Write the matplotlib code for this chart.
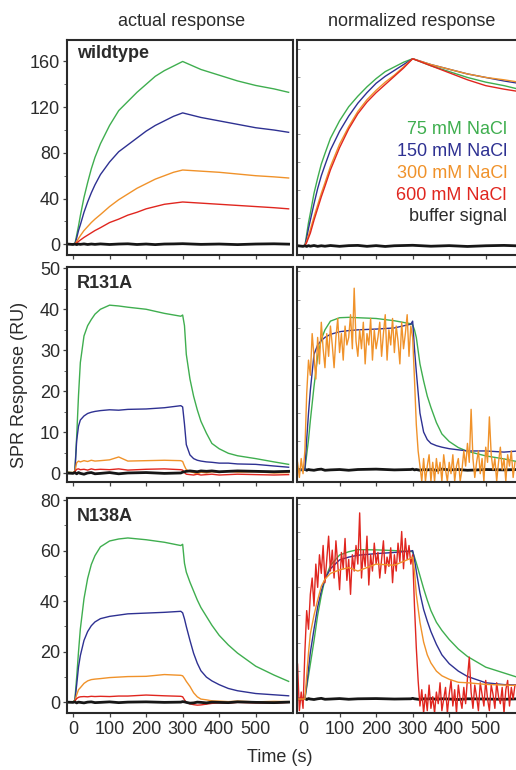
import matplotlib
matplotlib.use('agg')
import matplotlib.pyplot as plt
from matplotlib.ticker import MultipleLocator, FixedLocator

plt.rcParams['font.family'] = ['Liberation Sans', 'DejaVu Sans']

# colours of the five traces
GREEN = '#3fae4f'
BLUE = '#2e3192'
ORANGE = '#f0922a'
RED = '#e0261f'
BLACK = '#161616'
TXT = '#2b2b2b'

# ---------------- wildtype ----------------
tw = [-20, 0, 5, 10, 15, 20, 30, 40, 50, 60, 75, 100, 125, 150, 175, 200, 225,
      250, 275, 300, 350, 400, 450, 500, 550, 590]
wt_green = [0, 0, 0, 8, 16, 25, 41, 54, 66, 76, 88, 104, 117, 125, 133, 140, 147,
            152, 156, 160, 153, 148, 143, 139, 136, 133]
wt_blue = [0, 0, 0, 5.5, 12, 17, 28, 37, 45, 52, 61, 72, 81, 87, 93, 99, 104,
           108, 112, 115, 111, 108, 105, 102, 100, 98]
wt_orange = [0, 0, 0, 2.5, 5, 7.5, 12, 15.5, 19, 22, 26, 33, 39, 44, 49, 53, 57,
             60, 63, 65, 64, 63, 61.5, 60, 59, 58]
wt_red = [0, 0, 0, 1.2, 2.5, 3.7, 6, 8, 10, 12, 14.5, 19, 22, 25.5, 28, 31, 33,
          35, 36, 37, 36, 35, 34, 33, 32, 31]
wt_black = [0.3, -0.2, 0.2, -0.3, 0.2, -0.1, 0.3, -0.2, 0.2, -0.1, 0.3, -0.2,
            0.2, 0.4, -0.2, 0.2, -0.3, 0.2, 0.3, 0.5, -0.1, 0.2, -0.3, 0.2, 0.4, 0.1]

wtn_green = [0, 0, 0, 10, 20, 28, 45, 58, 70, 79, 92, 107, 119, 128, 136, 143, 149,
             153, 157, 160, 154, 149, 144, 140, 137, 134]
wtn_blue = [0, 0, 0, 7, 15, 22, 36, 49, 60, 69, 82, 98, 111, 122, 131, 139, 145,
            150, 155, 160, 155, 151, 147, 144, 141, 139]
wtn_orange = [0, 0, 0, 4, 9, 14, 25, 35, 45, 54, 68, 87, 102, 115, 125, 133, 140,
              146, 153, 160, 155, 151, 147, 144, 142, 140]
wtn_red = [0, 0, 0, 3, 7, 11, 22, 32, 42, 51, 65, 84, 100, 113, 123, 131, 138,
           145, 152, 160, 154, 148, 142, 137, 134, 132]
wtn_black = [0.4, -0.3, 0.2, -0.4, 0.3, -0.2, 0.4, -0.3, 0.2, -0.2, 0.4, -0.3,
             0.3, 0.5, -0.3, 0.3, -0.4, 0.2, 0.4, 0.6, -0.2, 0.3, -0.4, 0.2, 0.5, 0.1]

# ---------------- mutants (shared time grid) ----------------
tm = [-20, 0, 5, 10, 15, 20, 30, 40, 50, 60, 75, 100, 125, 150, 200, 250, 295,
      300, 305, 310, 320, 330, 340, 350, 365, 380, 400, 425, 450, 500, 550, 590]

r131_green = [0.3, 0.2, 0.5, 9, 19, 27, 33.5, 36, 37.5, 38.8, 40, 41, 40.8, 40.5,
              40, 39, 38.3, 38.6, 36, 29, 23, 18.8, 15.5, 12.7, 9.8, 7.3, 6, 4.9,
              4.3, 3.6, 2.8, 2.2]
r131_blue = [0.2, 0.1, 0.3, 8, 11.5, 13, 14, 14.6, 14.9, 15.1, 15.3, 15.5, 15.4,
             15.6, 15.7, 16, 16.5, 16.2, 12, 7, 4.5, 3.6, 3.2, 3, 2.8, 2.7, 2.5,
             2.5, 2.3, 2.2, 1.8, 1.5]
r131_orange = [0.3, 0.2, 0.5, 2.6, 3.0, 2.8, 3.1, 2.9, 3.2, 3.0, 3.1, 3.3, 4.0,
               3.0, 3.1, 3.2, 3.1, 2.9, 1.8, 0.9, 0.4, 0.2, -0.2, 0.3, 0.1, 0.4,
               0.2, 0.5, 0.3, 0.4, 0.1, 0.2]
r131_red = [0.2, 0.1, 0.4, 1.0, 1.1, 0.9, 1.0, 0.8, 1.1, 0.9, 1.0, 0.9, 1.1, 0.8,
            1.0, 1.1, 0.9, 0.8, 0.2, -0.2, -0.3, -0.4, -0.2, -0.4, -0.3, -0.2,
            -0.4, -0.3, -0.2, -0.3, -0.4, -0.3]
r131_black = [0.1, 0.0, 0.2, -0.1, 0.2, 0.0, -0.2, 0.1, 0.2, -0.1, 0.0, 0.2, -0.1,
              0.1, 0.2, 0.0, 0.1, 0.3, 0.4, 0.5, 0.6, 0.5, 0.4, 0.6, 0.5, 0.6,
              0.4, 0.5, 0.6, 0.5, 0.4, 0.5]

r131n_green = [0, 0, 0, 4, 8, 13, 22, 30, 34.5, 37, 39.3, 40.2, 40.3, 40.2, 40,
               39.4, 38.6, 38.3, 37, 35, 28, 23.5, 19.5, 16.5, 12.5, 9.5, 7.5,
               5.9, 4.9, 3.7, 2.9, 2.1]
r131n_blue = [0, 0, 0, 8, 15, 21, 30.5, 33, 34.2, 35, 35.8, 36.5, 36.8, 37, 37.2,
              37.5, 38.5, 39.3, 32, 26, 15, 10, 8, 7, 6.4, 6, 5.6, 5.3, 5, 5,
              4.7, 5.0]
r131n_black = [0.1, 0.0, 0.2, -0.1, 0.1, 0.0, -0.1, 0.1, 0.2, -0.1, 0.0, 0.1,
               -0.1, 0.1, 0.2, 0.0, 0.1, 0.2, 0.0, 0.1, -0.1, 0.1, 0.0, 0.1,
               -0.1, 0.2, 0.0, 0.1, -0.1, 0.1, 0.0, 0.1]

n138_green = [0.3, 0.2, 1, 10, 20, 29, 41, 49, 54.5, 58, 61.5, 63.8, 64.6, 65,
              64.3, 63.3, 62, 62.5, 55, 51.5, 47.5, 44, 40.5, 37.5, 34, 30.5,
              26.5, 22.7, 19.5, 14.3, 10.8, 8.3]
n138_blue = [0.2, 0.1, 0.5, 7, 14, 18.5, 24.5, 28, 30.3, 31.8, 33.1, 34, 34.5,
             35, 35.3, 35.6, 36, 35.4, 33, 30, 24.5, 19.4, 15.5, 12.5, 10, 8.5,
             7, 5.5, 4.6, 3.5, 3, 2.6]
n138_orange = [0.3, 0.2, 0.6, 3, 5, 5.8, 7.5, 8.5, 9, 9.2, 9.4, 9.8, 10, 10.2,
               10.3, 11, 10.7, 10.5, 9.5, 8.3, 6.3, 3.8, 2.2, 1.3, 1, 0.6, 0.5,
               0.3, 0.5, 0.2, 0.4, 0.3]
n138_red = [0.2, 0.1, 0.5, 1.5, 2, 2.2, 2.3, 2.2, 2.4, 2.3, 2.4, 2.3, 2.5, 2.5,
            2.9, 2.6, 2.4, 2.2, 1.0, 0, -0.6, -0.9, -1.1, -1.0, -0.7, -0.4,
            -0.2, -0.3, 0, -0.2, -0.3, 0]
n138_black = [0.1, 0.0, 0.2, -0.2, 0.1, 0.0, -0.2, 0.1, 0.2, -0.1, 0.0, 0.2,
              -0.1, 0.1, 0.2, 0.0, 0.1, 0.3, 0.2, 0.0, -0.3, -0.2, 0.1, 0.0,
              -0.2, 0.1, 0.0, -0.1, 0.2, 0.0, -0.1, 0.1]

n138n_green = [0, 0, 0, 5, 10, 15, 25, 36, 44.5, 51.5, 57.4, 61.9, 63.3, 64.2,
               64.1, 63.8, 63.4, 63.3, 61, 58.5, 53, 47.5, 42.5, 38, 33, 29.5,
               25.6, 21.5, 18.3, 13.7, 11.2, 9.2]
n138n_blue = [0, 0, 0, 6, 13, 20, 30, 39.5, 46.5, 51.5, 56, 59.8, 61, 61.8, 62.5,
              63, 63.6, 63.8, 60, 55, 45.5, 38.5, 33.5, 29, 23.5, 19, 15.2, 12,
              9.7, 7, 6.2, 6]
n138n_orange = [0, 0, 0, 10, 20, 28, 36, 42.5, 48.5, 51.5, 54, 55.5, 56.5, 55,
                58, 57.5, 60.5, 61, 55, 45, 33, 24.5, 19, 15.5, 12, 10, 8.5, 7.2,
                7, 6.3, 6, 5.8]
n138n_black = [0.1, 0.0, 0.3, -0.2, 0.2, 0.0, -0.2, 0.1, 0.3, -0.1, 0.0, 0.2,
               -0.1, 0.1, 0.2, 0.0, 0.1, 0.3, 0.1, 0.0, -0.2, 0.1, 0.0, 0.2,
               -0.1, 0.1, 0.0, -0.2, 0.1, 0.0, -0.1, 0.1]

# noisy normalized traces, one value every 5 s from -15 s to 580 s
t5 = list(range(-15, 585, 5))
r131n_orange = [2, -2, 3, -1, 5, 20, 29, 25, 36, 30,
                24, 35, 28, 39, 32, 27, 36, 30, 38, 33,
                27, 35, 40, 31, 36, 29, 38, 33, 35, 41,
                32, 48, 34, 30, 37, 32, 39, 28, 36, 33,
                40, 29, 37, 32, 35, 39, 30, 36, 41, 29,
                37, 33, 40, 31, 38, 34, 28, 39, 32, 36,
                41, 30, 38, 35, 24, 12, 5, 1, -3, 3,
                -3, 1, 4, -3, 2, -3, 3, -1, 2, -3,
                4, 0, -3, 2, -1, 4, -3, 1, 3, -3,
                0, 5, 1, 7, 2, 16, 3, -2, 2, 5,
                -1, 3, -3, 6, 2, 14, 4, 0, 3, -3,
                2, 6, 0, 3, -3, 4, 1, 5, -2, 2]
n138n_red = [15, -5, 3, -4, 20, 38, 30, 45, 52, 40,
             58, 48, 62, 54, 66, 50, 60, 70, 55, 64,
             52, 68, 58, 47, 63, 56, 69, 51, 60, 45,
             62, 55, 66, 58, 80, 52, 64, 57, 70, 49,
             62, 55, 67, 58, 63, 52, 60, 68, 54, 61,
             57, 65, 50, 62, 55, 67, 59, 72, 56, 69,
             60, 66, 58, 62, 40, 22, 8, -3, 4, -6,
             2, -5, 6, -4, 1, -6, 3, -2, 7, -5,
             0, 5, -6, 2, 8, -3, 4, -6, 6, 0,
             -4, 5, -2, 9, 18, 3, -4, 6, 1, -5,
             7, 2, -3, 8, 0, -5, 6, 2, -4, 7,
             1, -2, 5, -6, 4, 8, -3, 5, 0, 6]

xticks = [0, 100, 200, 300, 400, 500]
legend_labels = ['75 mM NaCl', '150 mM NaCl', '300 mM NaCl', '600 mM NaCl', 'buffer signal']
legend_colors = [GREEN, BLUE, ORANGE, RED, TXT]
panel_names = ['wildtype', 'R131A', 'N138A']

W, H = 516, 770
fig = plt.figure(figsize=(W / 100, H / 100), dpi=100)
fig.patch.set_facecolor('white')


def px_axes(left, top, right, bottom):
    return fig.add_axes([left / W, 1 - bottom / H, (right - left) / W, (bottom - top) / H])


rows = [(40, 255), (267, 482), (498, 713)]
ylims_left = [(-9.4, 178.8), (-2.1, 50.3), (-4.2, 80.8)]
ylims_right = [(-7.7, 176), (-3.2, 53.6), (-6, 86.4)]
major = [40, 10, 20]
minor = [20, 5, 10]
rticks = [24, 7.5, 12]

axes = []
for i, (top, bot) in enumerate(rows):
    axl = px_axes(67, top, 293, bot)
    axr = px_axes(297, top, 523, bot)   # runs off the right edge like the original
    for ax in (axl, axr):
        ax.set_xlim(-16.5, 602)
        ax.xaxis.set_major_locator(FixedLocator(xticks))
        ax.tick_params(axis='x', direction='out', length=3, width=0.9, color='#444444',
                       labelsize=13, labelcolor=TXT, pad=2.5)
        if i < 2:
            ax.tick_params(axis='x', labelbottom=False)
        for sp in ax.spines.values():
            sp.set_linewidth(1.5)
            sp.set_color('#2a2a2a')
    axl.set_ylim(*ylims_left[i])
    axl.yaxis.set_major_locator(MultipleLocator(major[i]))
    axl.yaxis.set_minor_locator(MultipleLocator(minor[i]))
    axl.tick_params(axis='y', which='major', direction='out', length=3, width=0.9,
                    color='#444444', labelsize=13, labelcolor=TXT, pad=2)
    axl.tick_params(axis='y', which='minor', direction='out', length=2, width=0.7,
                    color='#666666')
    axr.set_ylim(*ylims_right[i])
    axr.yaxis.set_major_locator(MultipleLocator(rticks[i]))
    axr.tick_params(axis='y', direction='in', length=2, width=0.6, color='#888888',
                    labelleft=False)
    axl.text(0.044, [0.935, 0.925, 0.915][i], panel_names[i], transform=axl.transAxes,
             fontsize=13, fontweight='bold', color=TXT, va='center', ha='left')
    axes.append((axl, axr))

lw = 1.0
blw = 2.0
# wildtype
axl, axr = axes[0]
for y, c in [(wt_green, GREEN), (wt_blue, BLUE), (wt_orange, ORANGE), (wt_red, RED)]:
    axl.plot(tw, y, color=c, lw=lw)
axl.plot(tw, wt_black, color=BLACK, lw=blw)
for y, c in [(wtn_green, GREEN), (wtn_blue, BLUE), (wtn_orange, ORANGE), (wtn_red, RED)]:
    axr.plot(tw, y, color=c, lw=lw)
axr.plot(tw, wtn_black, color=BLACK, lw=blw)

# R131A
axl, axr = axes[1]
for y, c in [(r131_green, GREEN), (r131_blue, BLUE), (r131_orange, ORANGE), (r131_red, RED)]:
    axl.plot(tm, y, color=c, lw=lw)
axl.plot(tm, r131_black, color=BLACK, lw=blw)
axr.plot(tm, r131n_black, color=BLACK, lw=blw)
axr.plot(tm, r131n_green, color=GREEN, lw=lw)
axr.plot(tm, r131n_blue, color=BLUE, lw=lw)
axr.plot(t5, r131n_orange, color=ORANGE, lw=lw)

# N138A
axl, axr = axes[2]
for y, c in [(n138_green, GREEN), (n138_blue, BLUE), (n138_orange, ORANGE), (n138_red, RED)]:
    axl.plot(tm, y, color=c, lw=lw)
axl.plot(tm, n138_black, color=BLACK, lw=blw)
axr.plot(tm, n138n_black, color=BLACK, lw=blw)
axr.plot(tm, n138n_green, color=GREEN, lw=lw)
axr.plot(tm, n138n_blue, color=BLUE, lw=lw)
axr.plot(t5, n138n_red, color=RED, lw=lw)
axr.plot(tm, n138n_orange, color=ORANGE, lw=lw)

# legend as coloured text, right aligned
axr = axes[0][1]
for k, (lab, c) in enumerate(zip(legend_labels, legend_colors)):
    axr.text((507 - 297) / 226, 1 - (130 + 21.7 * k - 40) / 215, lab, transform=axr.transAxes,
             color=c, fontsize=13, ha='right', va='center')

fig.text(181.7 / W, 1 - 21 / H, 'actual response', fontsize=13, color=TXT, ha='center', va='center')
fig.text(411.7 / W, 1 - 21 / H, 'normalized response', fontsize=13, color=TXT, ha='center', va='center')
fig.text(20 / W, 1 - 385 / H, 'SPR Response (RU)', fontsize=13, color=TXT, rotation=90,
         ha='center', va='center')
fig.text(280 / W, 1 - 758 / H, 'Time (s)', fontsize=13, color=TXT, ha='center', va='center')

fig.savefig('out.png', dpi=100)
